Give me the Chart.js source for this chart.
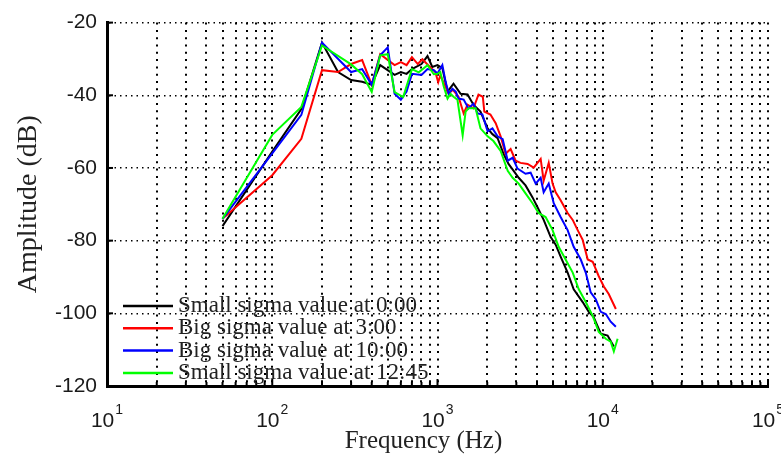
<!DOCTYPE html>
<html>
<head>
<meta charset="utf-8">
<script src="https://cdn.jsdelivr.net/npm/chart.js@4.4.1/dist/chart.umd.min.js"></script>
<style>
	html, body { margin: 0; padding: 0; background: #fff; }
	#wrap { width: 781px; height: 459px; }
</style>
</head>
<body>
<div id="wrap"><canvas id="chart-spectrum" width="781" height="459"></canvas></div>
<script>
// Series: frequency (Hz) and amplitude (dB)
const FREQ_BLACK = [50, 100, 150, 200, 250, 300, 350, 400, 450, 550, 600, 650, 700, 800, 870, 930, 1000, 1070, 1150, 1250, 1380, 1520, 1650, 1820, 2010, 2150, 2310, 2510, 2690, 2890, 3100, 3410, 3760, 4030, 4390, 4840, 5190, 5560, 6130, 6670, 7560, 8230, 8810, 9730, 10700, 11670];
const AMP_BLACK = [-76.0, -55.5, -43.8, -25.5, -33.6, -35.8, -36.3, -37.1, -31.7, -34.4, -33.6, -34.1, -32.8, -31.4, -29.2, -32.2, -31.7, -32.5, -39.0, -36.8, -39.6, -39.8, -42.6, -44.5, -49.1, -50.7, -51.8, -56.1, -58.9, -60.8, -62.7, -64.8, -68.1, -70.8, -74.3, -79.0, -81.1, -84.4, -88.8, -93.4, -96.9, -99.6, -101.0, -105.6, -106.1, -109.1];

const FREQ_RED = [50, 100, 150, 200, 250, 300, 350, 400, 450, 550, 600, 650, 700, 760, 810, 900, 970, 1010, 1040, 1100, 1170, 1240, 1340, 1440, 1520, 1650, 1770, 1880, 1920, 2090, 2250, 2410, 2580, 2770, 2970, 3180, 3510, 3820, 4210, 4390, 4710, 4970, 5190, 5560, 6130, 6580, 7050, 7560, 8110, 8690, 9460, 10150, 10870, 12000];
const AMP_RED = [-74.0, -62.0, -52.0, -33.1, -33.6, -31.4, -30.3, -37.1, -28.7, -31.7, -30.9, -31.7, -29.5, -31.4, -30.1, -32.2, -33.6, -36.4, -34.5, -37.0, -39.5, -38.5, -40.4, -45.0, -42.6, -43.6, -39.8, -40.4, -44.5, -45.3, -47.7, -51.3, -56.1, -54.8, -58.0, -58.6, -58.9, -59.9, -57.5, -63.5, -58.6, -64.3, -66.7, -68.9, -72.4, -74.3, -77.1, -79.8, -85.2, -85.8, -89.8, -92.6, -94.7, -98.8];

const FREQ_BLUE = [50, 100, 150, 200, 300, 350, 400, 450, 500, 550, 600, 650, 700, 800, 870, 950, 1000, 1070, 1120, 1170, 1230, 1290, 1340, 1440, 1540, 1650, 1750, 1870, 2010, 2150, 2310, 2480, 2660, 2850, 3050, 3410, 3660, 3930, 4210, 4390, 4710, 5050, 5560, 6130, 6670, 7360, 7890, 8450, 9070, 9730, 10430, 11170, 12000];
const AMP_BLUE = [-74.0, -56.0, -45.4, -25.5, -33.6, -32.8, -37.1, -29.0, -26.8, -39.6, -41.2, -39.0, -34.1, -34.4, -32.8, -33.1, -34.0, -31.7, -36.3, -39.6, -38.2, -39.0, -40.9, -41.2, -43.6, -42.3, -45.0, -45.3, -49.9, -49.1, -51.3, -52.1, -58.0, -57.2, -60.2, -61.6, -61.3, -64.3, -62.7, -66.7, -64.3, -69.7, -73.5, -77.1, -81.7, -85.2, -88.8, -94.2, -96.1, -99.6, -100.2, -102.3, -103.7];

const FREQ_GREEN = [50, 100, 150, 200, 300, 350, 400, 450, 500, 550, 620, 700, 770, 870, 950, 1000, 1040, 1090, 1150, 1200, 1250, 1320, 1420, 1480, 1540, 1700, 1820, 2010, 2180, 2410, 2660, 2850, 3100, 3410, 3760, 4090, 4510, 4970, 5410, 5960, 6580, 7160, 7890, 8690, 9460, 10430, 11170, 11670, 12300];
const AMP_GREEN = [-74.0, -50.9, -43.2, -26.3, -31.5, -34.2, -39.1, -29.0, -28.7, -39.1, -40.5, -32.8, -33.7, -31.7, -34.2, -34.1, -33.6, -37.5, -40.9, -39.6, -40.4, -41.2, -51.0, -44.5, -43.6, -43.6, -49.1, -51.3, -52.6, -55.3, -60.8, -62.7, -64.3, -67.0, -69.7, -72.4, -73.5, -77.1, -81.7, -85.2, -88.8, -93.4, -96.9, -100.7, -105.1, -107.0, -107.8, -110.5, -107.0];

const SERIES_LABELS = ["Small sigma value at 0:00", "Big sigma value at 3:00", "Big sigma value at 10:00", "Small sigma value at 12:45"];
const SERIES_COLORS = ["#000000", "#ff0000", "#0000ff", "#00ff00"];

// Axes
const Y_TICKS = [-120, -100, -80, -60, -40, -20];
const X_EXPONENTS = [1, 2, 3, 4, 5];
const X_TITLE = "Frequency (Hz)";
const GRID_FREQS = [];
for (let k = 1; k <= 4; k++) {
	for (let s = 1; s <= 9; s++) GRID_FREQS.push(s * Math.pow(10, k));
}
GRID_FREQS.push(1e5);

const SERIF = "'Liberation Serif', 'Times New Roman', serif";
const SANS = "'Liberation Sans', Arial, sans-serif";

const toPoints = (xs, ys) => xs.map((f, i) => ({ x: f, y: ys[i] }));

const makeSet = (i, xs, ys) => ({
	label: SERIES_LABELS[i],
	data: toPoints(xs, ys),
	borderColor: SERIES_COLORS[i],
	backgroundColor: SERIES_COLORS[i],
	borderWidth: 2,
	pointRadius: 0,
	tension: 0,
	order: 3 - i,
});

// Inward ticks, 10^n labels, x title and the in-plot legend
const decor = {
	id: "decor",
	afterDraw(chart) {
		const { ctx, chartArea, scales } = chart;
		const xs = scales.x;
		const ys = scales.y;
		ctx.save();
		ctx.strokeStyle = "#000";
		ctx.lineWidth = 2;
		Y_TICKS.forEach((v) => {
			const py = ys.getPixelForValue(v);
			ctx.beginPath();
			ctx.moveTo(chartArea.left, py);
			ctx.lineTo(chartArea.left + 6, py);
			ctx.stroke();
		});
		const majors = X_EXPONENTS.map((e) => Math.pow(10, e));
		GRID_FREQS.forEach((v) => {
			const px = xs.getPixelForValue(v);
			const len = majors.includes(v) ? 7 : 4;
			ctx.beginPath();
			ctx.moveTo(px, chartArea.bottom);
			ctx.lineTo(px, chartArea.bottom - len);
			ctx.stroke();
		});

		// 10^n tick labels
		ctx.fillStyle = "#1a1a1a";
		ctx.textBaseline = "alphabetic";
		ctx.textAlign = "left";
		X_EXPONENTS.forEach((e) => {
			const px = xs.getPixelForValue(Math.pow(10, e));
			ctx.font = "21px " + SANS;
			const w1 = ctx.measureText("10").width;
			ctx.font = "14px " + SANS;
			const w2 = ctx.measureText(String(e)).width;
			const x0 = px - (w1 + w2 + 1) / 2;
			const base = chartArea.bottom + 41;
			ctx.font = "21px " + SANS;
			ctx.fillText("10", x0, base);
			ctx.font = "14px " + SANS;
			ctx.fillText(String(e), x0 + w1 + 1, base - 13);
		});

		// x axis title, sitting a little left of the plot centre as in the source
		ctx.font = "25px " + SERIF;
		ctx.fillStyle = "#222";
		ctx.textAlign = "center";
		ctx.textBaseline = "middle";
		ctx.fillText(X_TITLE, (chartArea.left + chartArea.right) / 2 - 14, chartArea.bottom + 55);

		// legend
		const rowGap = 22.3;
		const firstRow = chartArea.bottom - 80;
		ctx.font = "23px " + SERIF;
		ctx.textAlign = "left";
		chart.data.datasets.forEach((ds, i) => {
			const ry = firstRow + i * rowGap;
			ctx.strokeStyle = ds.borderColor;
			ctx.lineWidth = 2.5;
			ctx.beginPath();
			ctx.moveTo(chartArea.left + 16, ry);
			ctx.lineTo(chartArea.left + 66, ry);
			ctx.stroke();
			ctx.fillStyle = "#222";
			ctx.fillText(ds.label, chartArea.left + 71, ry);
		});
		ctx.restore();
	},
};

const DATA = {
	datasets: [
		makeSet(0, FREQ_BLACK, AMP_BLACK),
		makeSet(1, FREQ_RED, AMP_RED),
		makeSet(2, FREQ_BLUE, AMP_BLUE),
		makeSet(3, FREQ_GREEN, AMP_GREEN),
	],
};

const CONFIG = {
	type: "line",
	data: DATA,
	plugins: [decor],
	options: {
		responsive: false,
		animation: false,
		layout: {
			padding: { top: 20, right: 13, left: 0, bottom: 0 },
		},
		plugins: {
			legend: { display: false },
			tooltip: { enabled: false },
		},
		scales: {
			x: {
				type: "logarithmic",
				min: 10,
				max: 1e5,
				afterBuildTicks: (scale) => {
					scale.ticks = GRID_FREQS.map((v) => ({ value: v }));
				},
				afterFit: (scale) => {
					scale.height = 73;
				},
				border: {
					display: true,
					color: "#000",
					width: 3,
					dash: [2, 5.3],
				},
				grid: {
					color: "#000",
					lineWidth: 2,
					drawTicks: false,
				},
				ticks: { display: false },
			},
			y: {
				min: -120,
				max: -20,
				afterBuildTicks: (scale) => {
					scale.ticks = Y_TICKS.map((v) => ({ value: v }));
				},
				afterFit: (scale) => {
					scale.width = 107;
				},
				border: {
					display: true,
					color: "#000",
					width: 3,
					dash: [1.5, 4],
				},
				grid: {
					color: "#000",
					lineWidth: 1.5,
					drawTicks: false,
				},
				ticks: {
					padding: 10,
					color: "#1a1a1a",
					font: { family: SANS, size: 21 },
				},
				title: {
					display: true,
					text: "Amplitude (dB)",
					color: "#222",
					font: { family: SERIF, size: 28 },
					padding: { top: 12, bottom: 0 },
				},
			},
		},
	},
};

const WRAPPER = document.getElementById("chart-spectrum");
if (WRAPPER) {
	new Chart(WRAPPER, CONFIG);
}
</script>
</body>
</html>
